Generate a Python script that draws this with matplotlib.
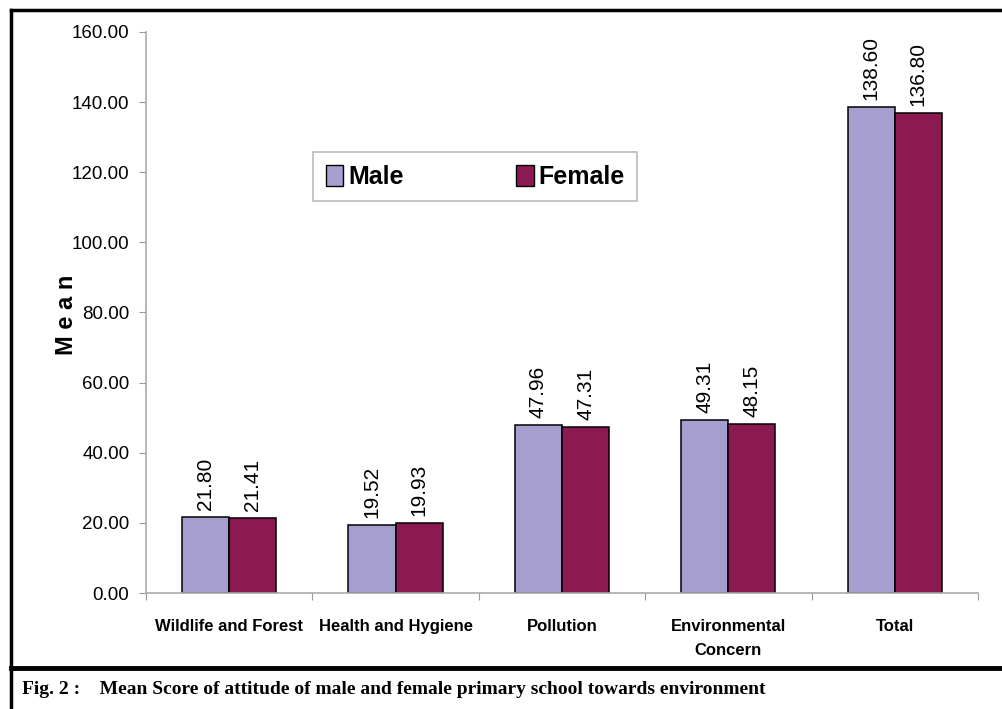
import matplotlib
matplotlib.use("Agg")
import matplotlib.pyplot as plt
from matplotlib.patches import Patch
import numpy as np

categories = ["Wildlife and Forest", "Health and Hygiene", "Pollution",
              "Environmental\nConcern", "Total"]
male = [21.80, 19.52, 47.96, 49.31, 138.60]
female = [21.41, 19.93, 47.31, 48.15, 136.80]
yticks = [0, 20, 40, 60, 80, 100, 120, 140, 160]

MALE_C = "#a59ecf"
FEMALE_C = "#8b1a50"
SANS = "Liberation Sans"


def main():
    fig = plt.figure(figsize=(10.02, 7.09), dpi=100)
    ax = fig.add_axes([0.1457, 0.1636, 0.8303, 0.7913])

    x = np.arange(len(categories))
    w = 0.283
    bm = ax.bar(x - w / 2, male, w, color=MALE_C, edgecolor="black", linewidth=1.1)
    bf = ax.bar(x + w / 2, female, w, color=FEMALE_C, edgecolor="black", linewidth=1.1)
    for bars, vals in ((bm, male), (bf, female)):
        for b, v in zip(bars, vals):
            ax.annotate(f"{v:.2f}", (b.get_x() + b.get_width() / 2, v),
                        xytext=(0, 5), textcoords="offset points",
                        rotation=90, ha="center", va="bottom",
                        fontsize=15, family=SANS)

    ax.set_xlim(-0.5, 4.5)
    ax.set_ylim(0, 160)
    ax.set_yticks(yticks)
    ax.set_yticklabels([f"{t:.2f}" for t in yticks], family=SANS, fontsize=13.5)
    ax.set_xticks(np.arange(-0.5, 5, 1), minor=False)
    ax.set_xticklabels([])
    ax.set_xticks(x, minor=True)
    ax.set_xticklabels(categories, minor=True, family=SANS, fontsize=12,
                       fontweight="bold", linespacing=1.7)
    ax.tick_params(axis="x", which="minor", length=0, pad=19)
    ax.tick_params(axis="x", which="major", length=5, color="#999999")
    ax.tick_params(axis="y", length=5, color="#999999", pad=7)
    for s in ("top", "right"):
        ax.spines[s].set_visible(False)
    for s in ("left", "bottom"):
        ax.spines[s].set_color("#aaaaaa")
        ax.spines[s].set_linewidth(1.2)

    fig.text(0.066, 0.556, "M e a n", rotation=90, ha="center", va="center",
             fontsize=17, fontweight="bold", family=SANS)

    handles = [Patch(facecolor=MALE_C, edgecolor="black"),
               Patch(facecolor=FEMALE_C, edgecolor="black")]
    leg = fig.legend(handles, ["Male", "Female"], ncol=2,
                     loc="center", bbox_to_anchor=(0.4743, 0.7504),
                     prop={"family": SANS, "weight": "bold", "size": 18},
                     frameon=True, fancybox=False, edgecolor="#aaaaaa",
                     handlelength=0.7, handleheight=0.9, handletextpad=0.2,
                     columnspacing=4.5, borderpad=0.5)
    leg.get_frame().set_linewidth(1.2)

    # outer frame and caption separator
    fig.add_artist(plt.Line2D([0.011, 1.0], [0.986, 0.986], color="black", lw=2.5))
    fig.add_artist(plt.Line2D([0.011, 0.011], [0.0, 0.986], color="black", lw=2.5))
    fig.add_artist(plt.Line2D([0.011, 1.0], [0.058, 0.058], color="black", lw=3.5))

    fig.text(0.022, 0.027, "Fig. 2 :    Mean Score of attitude of male and female primary school towards environment",
             ha="left", va="center", fontsize=14, fontweight="bold",
             family="Liberation Serif")

    fig.savefig("out.png", dpi=100)


if __name__ == "__main__":
    main()
